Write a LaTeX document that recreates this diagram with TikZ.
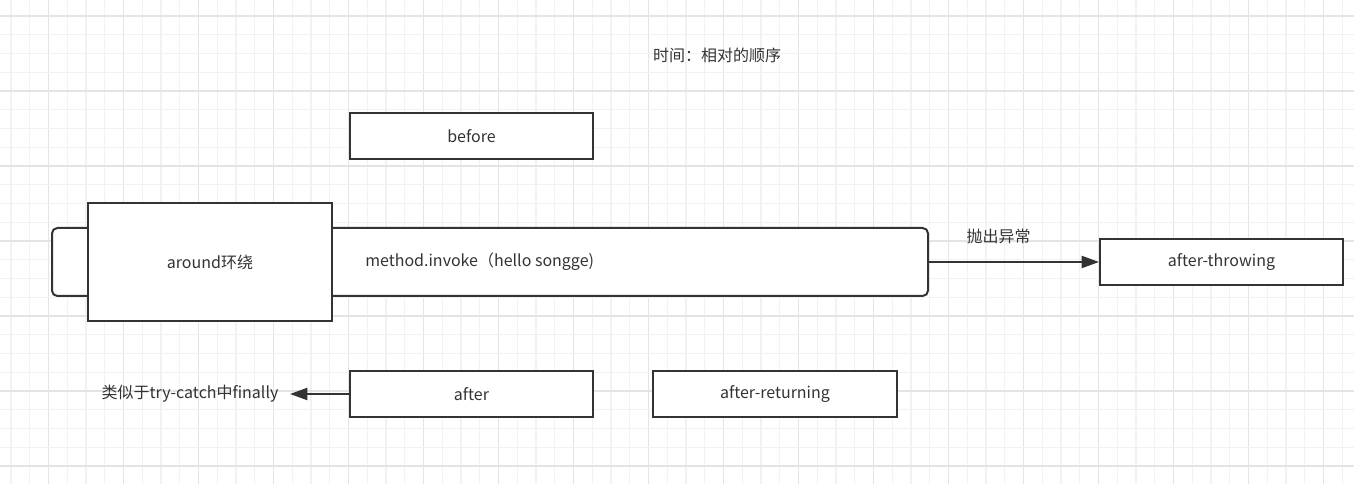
\documentclass[tikz,border=0pt]{standalone}
\usepackage{fontspec}
\setmainfont{Noto Sans CJK SC}
\usetikzlibrary{arrows.meta}
\definecolor{gridminor}{HTML}{F2F2F2}
\definecolor{gridmajor}{HTML}{E4E4E4}
\definecolor{ink}{HTML}{333333}
\definecolor{txt}{HTML}{333333}
\begin{document}
\begin{tikzpicture}[x=0.75pt,y=-0.75pt,
  box/.style={draw=ink,line width=1.5pt,fill=white,minimum width=243*0.75pt,minimum height=46*0.75pt,inner sep=0pt,anchor=north west},
  lbl/.style={text=txt,font=\fontsize{12pt}{14pt}\selectfont,inner sep=0pt},
  link/.style={draw=ink,line width=1.5pt,-{Triangle[length=13pt,width=9pt]}}]
\useasboundingbox (0,0) rectangle (1354,484);
\fill[white] (0,0) rectangle (1354,484);
% background grid
\foreach \k in {0,...,72}{
  \pgfmathsetmacro\gx{11+18.75*\k}
  \pgfmathtruncatemacro\m{mod(\k,4)}
  \ifnum\m=2 \draw[gridmajor,line width=0.9pt] (\gx,0) -- (\gx,484);
  \else \draw[gridminor,line width=0.9pt] (\gx,0) -- (\gx,484); \fi}
\foreach \k in {0,...,25}{
  \pgfmathsetmacro\gy{16+18.75*\k}
  \pgfmathtruncatemacro\m{mod(\k,4)}
  \ifnum\m=0 \draw[gridmajor,line width=0.9pt] (0,\gy) -- (1354,\gy);
  \else \draw[gridminor,line width=0.9pt] (0,\gy) -- (1354,\gy); \fi}

% title
\node[lbl] (title) at (717,55) {时间：相对的顺序};

% boxes
\node[box] (before) at (349,112) {};
\node[lbl] at (before.center) {before};

\node[box,rounded corners=4pt,minimum width=876*0.75pt,minimum height=68*0.75pt] (invoke) at (51,227) {};
\node[lbl,anchor=west] (invoketext) at (365,262) {method.invoke（hello songge)};

\node[box,minimum width=244*0.75pt,minimum height=118*0.75pt] (around) at (87,202) {};
\node[lbl] at (around.center) {around环绕};

\node[box] (throwing) at (1099,238) {};
\node[lbl] at (throwing.center) {after-throwing};

\node[box] (after) at (349,370) {};
\node[lbl] at (after.center) {after};

\node[box,minimum width=244*0.75pt] (returning) at (652,370) {};
\node[lbl] at (returning.center) {after-returning};

\node[lbl,anchor=east,inner xsep=8.5pt] (finally) at (290,394) {类似于try-catch中finally};

% connectors
\draw[link] (invoke.east) -- (throwing.west) node[pos=0.41,above=13pt,lbl] (exlabel) {抛出异常};
\draw[link] (after.west) -- (after.west -| finally.east);
\end{tikzpicture}
\end{document}
